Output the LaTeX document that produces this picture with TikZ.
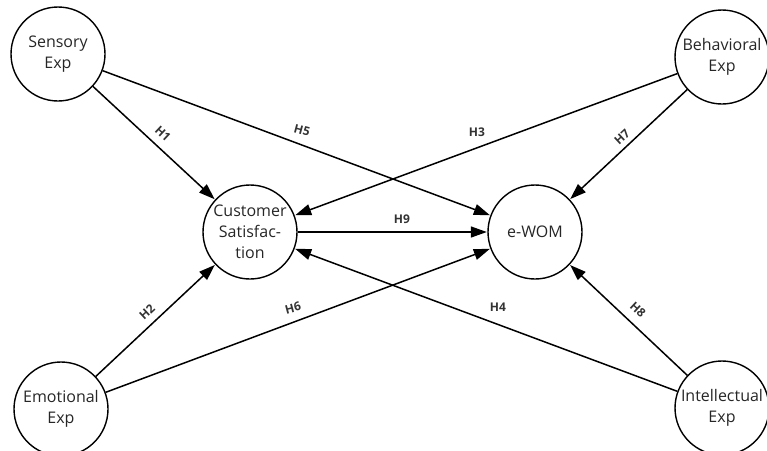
\documentclass[tikz,border=0pt]{standalone}
\usepackage{fontspec}
\setmainfont{Open Sans}
\usetikzlibrary{arrows.meta}
\begin{document}
\begin{tikzpicture}[x=1pt,y=-1pt,
  construct/.style={circle,draw,line width=1.4pt,minimum size=94pt,inner sep=0pt,align=center,
    font=\fontsize{16}{21}\selectfont,text=black!85},
  path/.style={line width=1.5pt,-{Triangle[length=16pt,width=11pt]},shorten >=0.5pt},
  hlab/.style={font=\fontsize{12}{14}\selectfont\bfseries,text=black!80,inner sep=0pt}]
\useasboundingbox (0,0) rectangle (767,450);
\node[construct] (sen) at (58,54) {Sensory\\Exp};
\node[construct] (beh) at (722,57) {Behavioral\\Exp};
\node[construct] (emo) at (61,409) {Emotional\\Exp};
\node[construct] (int) at (722,408) {Intellectual\\Exp};
\node[construct] (cs) at (250,232) {Customer\\Satisfac-\\tion};
\node[construct] (ew) at (535,232) {e-WOM};
\draw[path] (sen) -- (cs);
\draw[path] (sen) -- (ew);
\draw[path] (beh) -- (cs);
\draw[path] (beh) -- (ew);
\draw[path] (emo) -- (cs);
\draw[path] (emo) -- (ew);
\draw[path] (int) -- (cs);
\draw[path] (int) -- (ew);
\draw[path] (cs) -- (ew);
\node[hlab,rotate=-43] (h1) at (163,134) {H1};
\node[hlab,rotate=-15] (h5) at (302,130) {H5};
\node[hlab] (h3) at (477,132) {H3};
\node[hlab,rotate=43] (h7) at (622,137) {H7};
\node[hlab] (h9) at (402,219) {H9};
\node[hlab,rotate=43] (h2) at (147,312) {H2};
\node[hlab,rotate=15] (h6) at (293,308) {H6};
\node[hlab] (h4) at (498,307) {H4};
\node[hlab,rotate=-43] (h8) at (638,310) {H8};
\end{tikzpicture}
\end{document}
